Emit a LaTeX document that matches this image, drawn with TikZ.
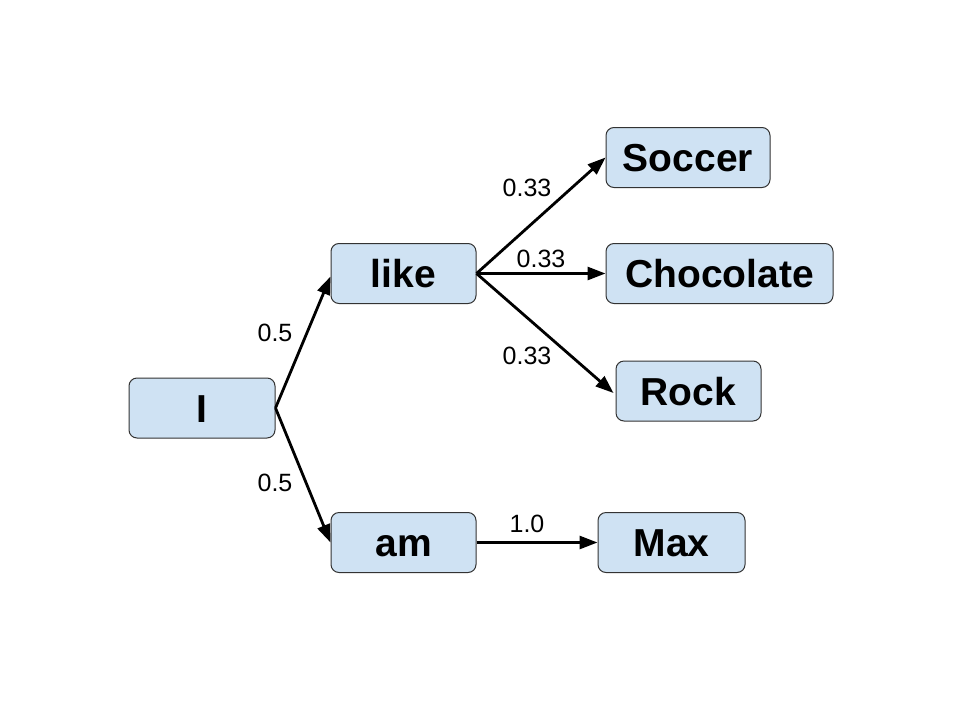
\documentclass[tikz,border=0pt]{standalone}
\usepackage{fontspec}
\setmainfont{Liberation Sans}
\usetikzlibrary{arrows.meta}
\definecolor{boxfill}{HTML}{CFE2F3}
\definecolor{boxline}{HTML}{333333}
\begin{document}
\begin{tikzpicture}[x=1pt,y=-1pt,
  wordbox/.style={draw=boxline, line width=1pt, fill=boxfill, rounded corners=8pt,
    minimum height=60pt, inner sep=0pt, text depth=0pt, text height=28pt,
    font=\fontsize{39}{41}\selectfont\bfseries},
  conn/.style={line width=2.8pt, -{Triangle[length=18pt,width=13pt]}},
  prob/.style={font=\fontsize{25}{27}\selectfont, inner sep=0pt}]
\useasboundingbox (0,0) rectangle (960,720);
\node[wordbox, minimum width=146pt] (I) at (202,408) {I};
\node[wordbox, minimum width=145pt] (like) at (403.5,273.5) {like};
\node[wordbox, minimum width=145pt] (am) at (403.5,542.5) {am};
\node[wordbox, minimum width=164pt] (soccer) at (688,157.5) {Soccer};
\node[wordbox, minimum width=227pt] (choc) at (719.5,273.5) {Chocolate};
\node[wordbox, minimum width=145pt] (rock) at (688.5,391) {Rock};
\node[wordbox, minimum width=147pt] (max) at (671.5,542.5) {Max};
\draw[conn] (I.east) -- ([yshift=-3pt]like.west);
\draw[conn] (I.east) -- (am.west);
\draw[conn] (like.east) -- (soccer.west);
\draw[conn] (like.east) -- (choc.west);
\draw[conn] (like.east) -- ([xshift=-2pt,yshift=-2pt]rock.west);
\draw[conn] (am.east) -- (max.west);
\node[prob] (p1) at (275,333) {0.5};
\node[prob] (p2) at (275,483) {0.5};
\node[prob] (p3) at (527,188) {0.33};
\node[prob] (p4) at (541,259) {0.33};
\node[prob] (p5) at (527,356) {0.33};
\node[prob] (p6) at (527,524) {1.0};
\end{tikzpicture}
\end{document}
